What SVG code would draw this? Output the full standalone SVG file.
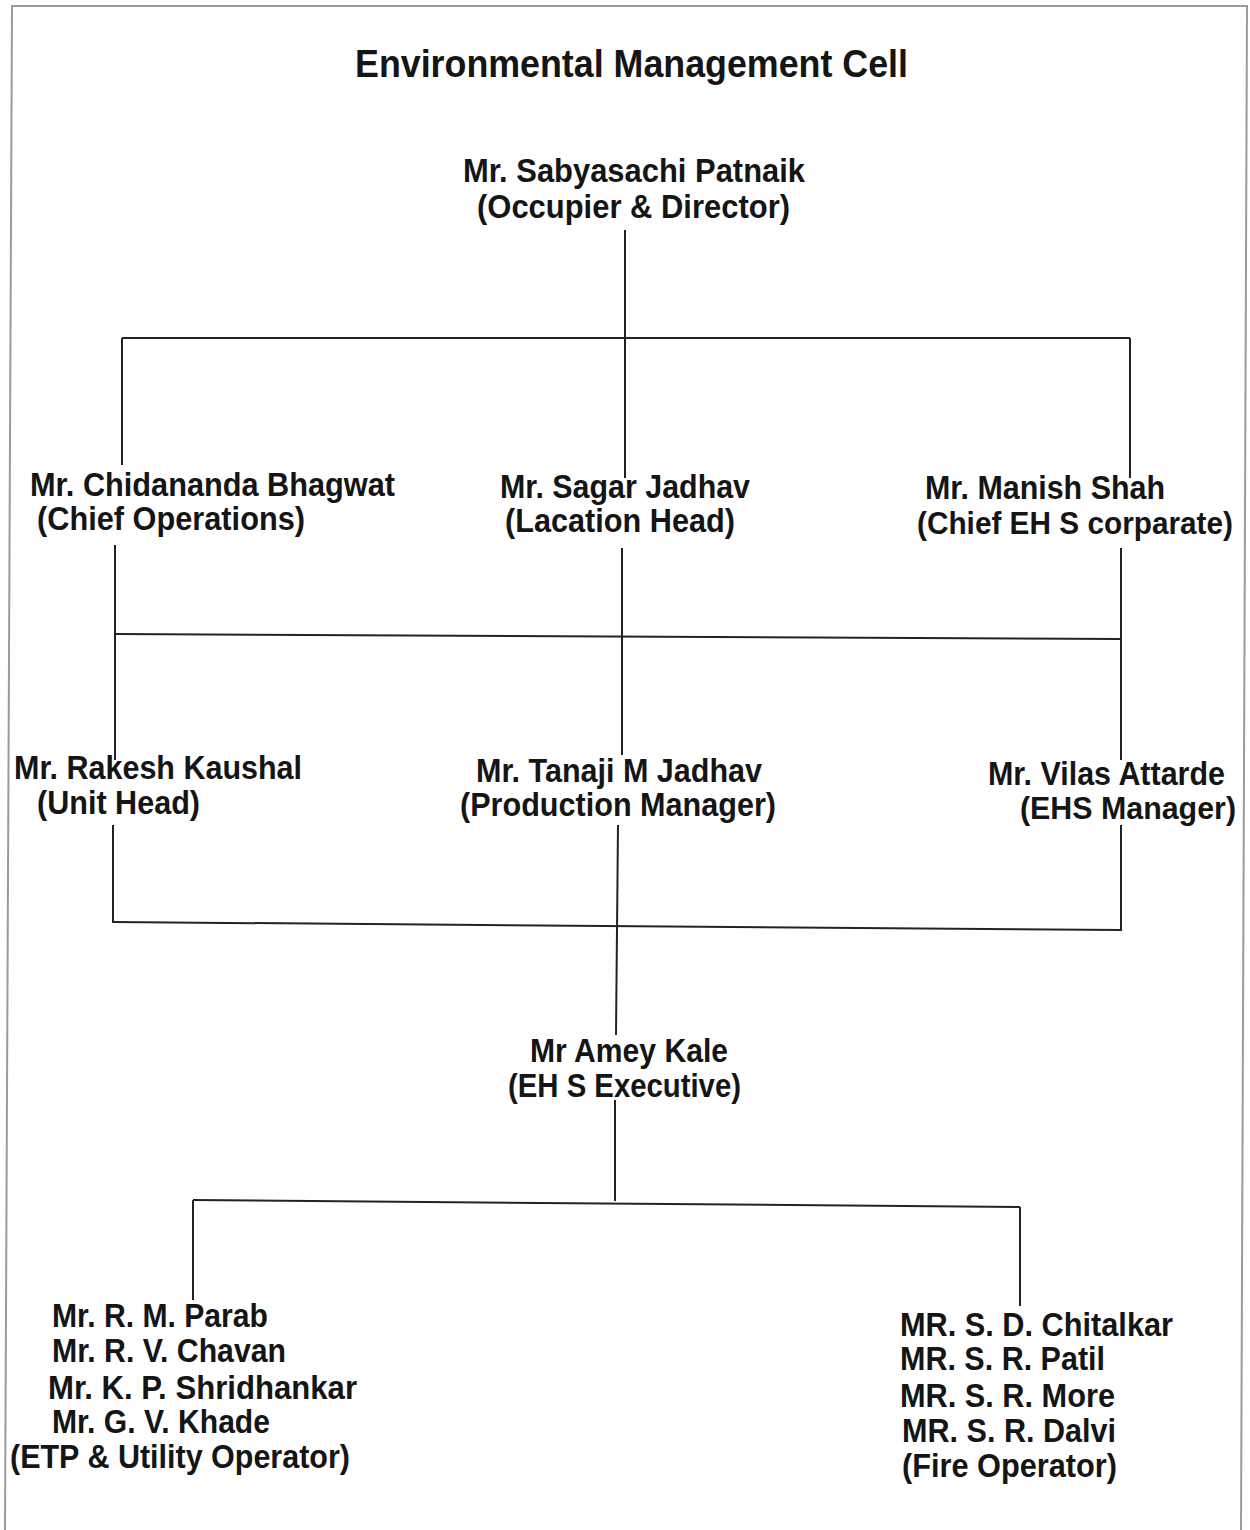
<svg xmlns="http://www.w3.org/2000/svg" width="1250" height="1530" viewBox="0 0 1250 1530">
<style>
text{font-family:"Liberation Sans",Arial,sans-serif;font-weight:bold;font-size:33px;fill:#151515}
.title{font-size:38px}
.sm{font-size:31px}
.ln{stroke:#222;stroke-width:2;fill:none}
.border{stroke:#9a9a9a;stroke-width:2;fill:none}
</style>
<rect width="1250" height="1530" fill="#fff"/>
<polyline class="border" points="5,1530 12,6 1247,6 1241,1530"/>
<text class="title" x="355" y="77" textLength="553" lengthAdjust="spacingAndGlyphs">Environmental Management Cell</text>
<g id="connectors">
<line class="ln" x1="625" y1="230" x2="625" y2="478"/>
<line class="ln" x1="122" y1="338" x2="1130" y2="338"/>
<line class="ln" x1="122" y1="338" x2="122" y2="465"/>
<line class="ln" x1="1130" y1="338" x2="1130" y2="478"/>
<line class="ln" x1="115" y1="545" x2="115" y2="760"/>
<line class="ln" x1="622" y1="548" x2="622" y2="755"/>
<line class="ln" x1="1121" y1="548" x2="1121" y2="760"/>
<line class="ln" x1="115" y1="634" x2="1121" y2="639"/>
<line class="ln" x1="113" y1="825" x2="113" y2="923"/>
<line class="ln" x1="618" y1="825" x2="616" y2="1035"/>
<line class="ln" x1="1121" y1="825" x2="1121" y2="931"/>
<line class="ln" x1="113" y1="922" x2="1121" y2="930"/>
<line class="ln" x1="615" y1="1100" x2="615" y2="1201"/>
<line class="ln" x1="193" y1="1200" x2="1020" y2="1207"/>
<line class="ln" x1="193" y1="1200" x2="193" y2="1300"/>
<line class="ln" x1="1020" y1="1207" x2="1020" y2="1306"/>
</g>
<g id="patnaik">
<text x="463" y="182" textLength="342" lengthAdjust="spacingAndGlyphs">Mr. Sabyasachi Patnaik</text>
<text x="477" y="218" textLength="313" lengthAdjust="spacingAndGlyphs">(Occupier &amp; Director)</text>
</g>
<g id="bhagwat">
<text x="30" y="496" textLength="365" lengthAdjust="spacingAndGlyphs">Mr. Chidananda Bhagwat</text>
<text x="37" y="530" textLength="268" lengthAdjust="spacingAndGlyphs">(Chief Operations)</text>
</g>
<g id="sagar">
<text x="500" y="498" textLength="250" lengthAdjust="spacingAndGlyphs">Mr. Sagar Jadhav</text>
<text x="505" y="532" textLength="230" lengthAdjust="spacingAndGlyphs">(Lacation Head)</text>
</g>
<g id="manish">
<text x="925" y="499" textLength="240" lengthAdjust="spacingAndGlyphs">Mr. Manish Shah</text>
<text class="sm" x="917" y="534" textLength="316" lengthAdjust="spacingAndGlyphs">(Chief EH S corparate)</text>
</g>
<g id="rakesh">
<text x="14" y="779" textLength="288" lengthAdjust="spacingAndGlyphs">Mr. Rakesh Kaushal</text>
<text x="37" y="814" textLength="163" lengthAdjust="spacingAndGlyphs">(Unit Head)</text>
</g>
<g id="tanaji">
<text x="476" y="782" textLength="286" lengthAdjust="spacingAndGlyphs">Mr. Tanaji M Jadhav</text>
<text x="460" y="816" textLength="316" lengthAdjust="spacingAndGlyphs">(Production Manager)</text>
</g>
<g id="vilas">
<text x="988" y="785" textLength="237" lengthAdjust="spacingAndGlyphs">Mr. Vilas Attarde</text>
<text class="sm" x="1020" y="819" textLength="216" lengthAdjust="spacingAndGlyphs">(EHS Manager)</text>
</g>
<g id="amey">
<text x="530" y="1062" textLength="198" lengthAdjust="spacingAndGlyphs">Mr Amey Kale</text>
<text x="508" y="1097" textLength="233" lengthAdjust="spacingAndGlyphs">(EH S Executive)</text>
</g>
<g id="etp">
<text x="52" y="1327" textLength="216" lengthAdjust="spacingAndGlyphs">Mr. R. M. Parab</text>
<text x="52" y="1362" textLength="234" lengthAdjust="spacingAndGlyphs">Mr. R. V. Chavan</text>
<text x="48" y="1399" textLength="309" lengthAdjust="spacingAndGlyphs">Mr. K. P. Shridhankar</text>
<text x="52" y="1433" textLength="218" lengthAdjust="spacingAndGlyphs">Mr. G. V. Khade</text>
<text x="10" y="1468" textLength="340" lengthAdjust="spacingAndGlyphs">(ETP &amp; Utility Operator)</text>
</g>
<g id="fire">
<text x="900" y="1336" textLength="273" lengthAdjust="spacingAndGlyphs">MR. S. D. Chitalkar</text>
<text x="900" y="1370" textLength="205" lengthAdjust="spacingAndGlyphs">MR. S. R. Patil</text>
<text x="900" y="1407" textLength="215" lengthAdjust="spacingAndGlyphs">MR. S. R. More</text>
<text x="902" y="1442" textLength="214" lengthAdjust="spacingAndGlyphs">MR. S. R. Dalvi</text>
<text x="902" y="1477" textLength="215" lengthAdjust="spacingAndGlyphs">(Fire Operator)</text>
</g>
</svg>
